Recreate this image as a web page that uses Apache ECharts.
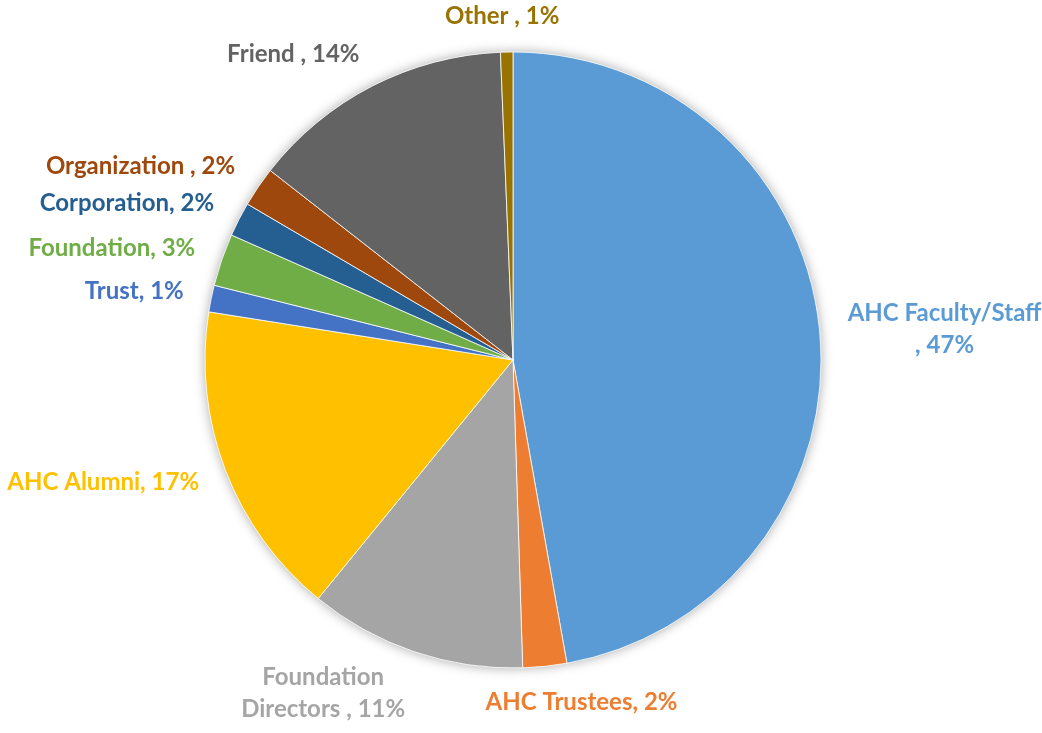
<!DOCTYPE html>
<html>
<head>
<meta charset="utf-8">
<script src="https://cdn.jsdelivr.net/npm/echarts@6/dist/echarts.min.js"></script>
<style>
  html, body { margin: 0; padding: 0; background: #fff; }
  #chart { width: 1042px; height: 733px; }
</style>
</head>
<body>
<div id="chart"></div>
<script>
var categories = ['AHC Faculty/Staff ', 'AHC Trustees', 'Foundation Directors ', 'AHC Alumni', 'Trust', 'Foundation', 'Corporation', 'Organization ', 'Friend ', 'Other '];
var shares = [47.2, 2.3, 11.4, 16.6, 1.4, 2.75, 1.8, 2.1, 13.8, 0.65];
var colors = ['#5B9BD5', '#ED7D31', '#A5A5A5', '#FFC000', '#4472C4', '#70AD47', '#255E91', '#9E480E', '#636363', '#997300'];

var CX = 513, CY = 360, R = 308, GAP = 28;

var myChart = echarts.init(document.getElementById('chart'));

var pieData = [];
for (var i = 0; i < categories.length; i++) {
  pieData.push({
    name: categories[i],
    value: shares[i],
    itemStyle: {color: colors[i]},
    label: {color: colors[i]}
  });
}

function labelText(params) {
  var pct = Math.round(params.percent) + '%';
  if (params.dataIndex === 0) {
    return '{c|' + params.name.trim() + '}\n{c|, ' + pct + '}';
  }
  if (params.dataIndex === 2) {
    return '{c|Foundation}\n{c|Directors , ' + pct + '}';
  }
  return params.name + ', ' + pct;
}

// put each label just outside its slice, like Excel's outside-end labels
function placeLabel(params) {
  if (params.seriesIndex !== 1) return;
  var total = 0, before = 0;
  for (var k = 0; k < shares.length; k++) {
    if (k < params.dataIndex) before += shares[k];
    total += shares[k];
  }
  var mid = (before + shares[params.dataIndex] / 2) / total * Math.PI * 2;
  var sx = Math.sin(mid), sy = -Math.cos(mid);
  var w = params.labelRect.width, h = params.labelRect.height;
  var shift = Math.max(-0.5, Math.min(0.5, sx * 1.7));
  return {
    x: CX + (R + GAP) * sx + shift * w,
    y: CY + (R + GAP) * sy + sy * h / 4,
    align: 'center',
    verticalAlign: 'middle'
  };
}

var option = {
  animation: false,
  series: [
    {
      name: 'shadow',
      type: 'pie',
      silent: true,
      center: [CX, CY],
      radius: R,
      startAngle: 90,
      label: {show: false},
      labelLine: {show: false},
      itemStyle: {
        color: '#ffffff',
        shadowBlur: 12,
        shadowColor: 'rgba(0,0,0,0.35)'
      },
      data: shares.slice()
    },
    {
      name: 'Donors',
      type: 'pie',
      center: [CX, CY],
      radius: R,
      startAngle: 90,
      itemStyle: {
        borderColor: '#ffffff',
        borderWidth: 0.8
      },
      label: {
        show: true,
        position: 'outside',
        fontFamily: 'Lato',
        fontWeight: 'bold',
        fontSize: 24,
        lineHeight: 32,
        formatter: labelText,
        rich: {
          c: {align: 'center', fontFamily: 'Lato', fontWeight: 'bold', fontSize: 24, lineHeight: 32}
        }
      },
      labelLine: {show: false, length: 12, length2: 0},
      labelLayout: placeLabel,
      data: pieData
    }
  ]
};

myChart.setOption(option);
</script>
</body>
</html>
